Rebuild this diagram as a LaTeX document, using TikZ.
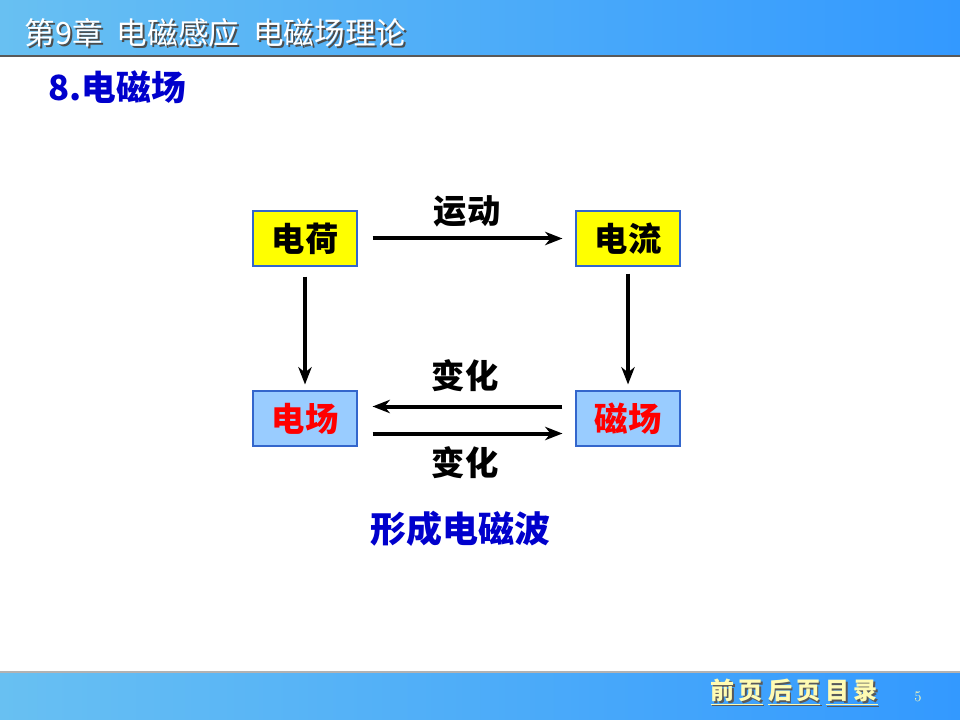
\documentclass[tikz,border=0pt]{standalone}
\usepackage{fontspec}
\usepackage{xcolor}
\usepackage{tikz}
\usetikzlibrary{arrows.meta,positioning}
\newfontfamily\cjk{Noto Sans CJK SC}
\definecolor{bandL}{RGB}{104,192,242}
\definecolor{bandR}{RGB}{51,153,255}
\definecolor{boxyellow}{RGB}{255,255,0}
\definecolor{boxblue}{RGB}{153,204,255}
\definecolor{boxline}{RGB}{51,102,204}
\definecolor{titleblue}{RGB}{0,0,204}
\tikzset{
  cbox/.style={draw=boxline,line width=0.8pt,minimum width=104*0.75pt,minimum height=55*0.75pt,inner sep=0pt,font=\cjk\bfseries\fontsize{25}{28}\selectfont},
  flow/.style={line width=3pt,-{Stealth[length=13pt,width=10pt,inset=4pt]}},
  tag/.style={font=\cjk\bfseries\fontsize{25}{28}\selectfont}
}

\begin{document}
\begin{tikzpicture}[x=0.75pt,y=-0.75pt]
  \useasboundingbox (0,0) rectangle (960,720);
  % header and footer bands
  \shade[left color=bandL,right color=bandR] (0,0) rectangle (960,56);
  \draw[gray!70!black,line width=1pt] (0,56) -- (960,56);
  \shade[left color=bandL,right color=bandR] (0,672) rectangle (960,720);
  \draw[gray!60,line width=0.8pt] (0,672) -- (960,672);
  \node[anchor=west,white,font=\cjk\fontsize{23}{26}\selectfont,
        preaction={}] (chapter) at (20,34)
        {\rlap{\kern1.5pt\raisebox{-1.5pt}{\textcolor{gray!60!black}{第9章\ \ 电磁感应\ \ 电磁场理论}}}第9章\ \ 电磁感应\ \ 电磁场理论};
  \node[anchor=west,titleblue,font=\cjk\bfseries\fontsize{26}{30}\selectfont] (section) at (44,87) {8.电磁场};
  % boxes
  \node[cbox,fill=boxyellow] (charge) at (305,238.5) {电荷};
  \node[cbox,fill=boxyellow] (current) at (628,238.5) {电流};
  \node[cbox,fill=boxblue,text=red] (efield) at (305,418.5) {电场};
  \node[cbox,fill=boxblue,text=red] (bfield) at (628,418.5) {磁场};
  % connectors
  \draw[flow] ([xshift=15*0.75pt]charge.east) -- ([xshift=-13*0.75pt]current.west);
  \node[tag] (move) at (467,211) {运动};
  \draw[flow] ([yshift=-10*0.75pt]charge.south) -- ([yshift=6*0.75pt]efield.north);
  \draw[flow] ([yshift=-7*0.75pt]current.south) -- ([yshift=6*0.75pt]bfield.north);
  \draw[flow] ([xshift=-13*0.75pt,yshift=12*0.75pt]bfield.west) -- ([xshift=15*0.75pt,yshift=12*0.75pt]efield.east);
  \node[tag] (changeA) at (465,376) {变化};
  \draw[flow] ([xshift=15*0.75pt,yshift=-15*0.75pt]efield.east) -- ([xshift=-13*0.75pt,yshift=-15*0.75pt]bfield.west);
  \node[tag] (changeB) at (465,463) {变化};
  \node[tag,titleblue,font=\cjk\bfseries\fontsize{27}{30}\selectfont] (wave) at (460,529) {形成电磁波};
  % footer links
  \node[anchor=west,yellow!30,font=\cjk\bfseries\fontsize{18}{20}\selectfont] (links) at (706,693)
        {\rlap{\kern1.2pt\raisebox{-1.2pt}{\textcolor{gray!70!black}{\underline{前\,页}\ \underline{后\,页}\ \underline{目\,录}}}}\underline{前\,页}\ \underline{后\,页}\ \underline{目\,录}};
  \node[yellow!30,font=\fontsize{11}{13}\selectfont] (page) at (918,697) {5};
\end{tikzpicture}
\end{document}
